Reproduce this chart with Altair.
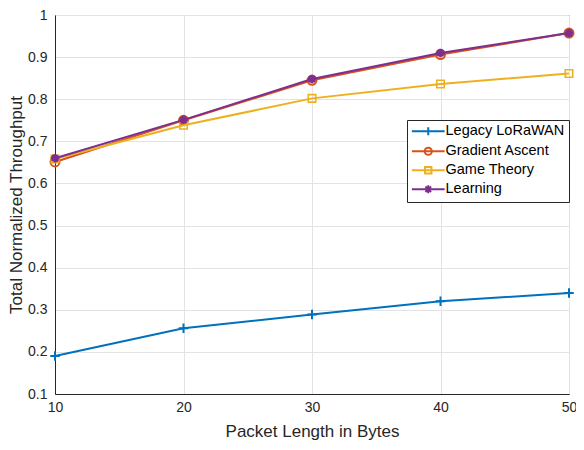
import altair as alt
import pandas as pd

packet_len = [10, 20, 30, 40, 50]
series = ["Legacy LoRaWAN", "Gradient Ascent", "Game Theory", "Learning"]
legacy = [0.190, 0.256, 0.289, 0.320, 0.340]
gradient = [0.651, 0.750, 0.845, 0.906, 0.957]
game = [0.658, 0.738, 0.802, 0.836, 0.861]
learning = [0.660, 0.751, 0.848, 0.910, 0.957]
colors = ["#0072BD", "#D95319", "#EDB120", "#7E2F8E"]
y_ticks = [0.1, 0.2, 0.3, 0.4, 0.5, 0.6, 0.7, 0.8, 0.9, 1.0]

rows = []
for name, vals in zip(series, [legacy, gradient, game, learning]):
    for x, v in zip(packet_len, vals):
        rows.append({"len": x, "thr": v, "series": name})
df = pd.DataFrame(rows)

FONT = "Liberation Sans"
TXT = "#262626"
W, H = 514, 379

xenc = alt.X("len:Q", scale=alt.Scale(domain=[10, 50], nice=False),
             axis=alt.Axis(values=packet_len, format="d", title="Packet Length in Bytes",
                           titleX=W / 2, titleY=37, titleBaseline="middle"))
yenc = alt.Y("thr:Q", scale=alt.Scale(domain=[0.1, 1.0], nice=False, zero=False),
             axis=alt.Axis(values=y_ticks, format=".1~f", title="Total Normalized Throughput",
                           titleX=-39, titleY=H / 2, titleBaseline="middle"))
cscale = alt.Scale(domain=series, range=colors)

marker_paths = [
    ("M-1,0L1,0M0,-1L0,1", 90, 2),
    ("circle", 81, 2),
    ("square", 56, 1.6),
    ("M-1,0L1,0M0,-1L0,1M-0.7,-0.7L0.7,0.7M-0.7,0.7L0.7,-0.7", 72, 2.6),
]
layers = []
for name, col, (shp, sz, sw) in zip(series, colors, marker_paths):
    base = alt.Chart(df).transform_filter(alt.datum.series == name)
    layers.append(base.mark_line(strokeWidth=2, color=col).encode(x=xenc, y=yenc))
    layers.append(
        base.mark_point(filled=False, shape=shp, size=sz, strokeWidth=sw, opacity=1, color=col)
        .encode(x=xenc, y=yenc)
    )

legend_paths = [
    "M-4.1,0L4.1,0M0,-1L0,1",
    "M-4.1,0L4.1,0M-0.9,0A0.9,0.9 0 1 0 0.9,0A0.9,0.9 0 1 0 -0.9,0Z",
    "M-4.1,0L4.1,0M-0.8,-0.8L0.8,-0.8L0.8,0.8L-0.8,0.8Z",
    "M-4.1,0L4.1,0M0,-1L0,1M-0.7,-0.7L0.7,0.7M-0.7,0.7L0.7,-0.7",
]
leg_df = pd.DataFrame({"series": series, "len": [None] * 4, "thr": [None] * 4})
legend_layer = alt.Chart(leg_df).mark_point(filled=False, opacity=1).encode(
    x=xenc, y=yenc,
    color=alt.Color("series:N", scale=cscale,
                    legend=alt.Legend(title=None, orient="none", legendX=352, legendY=105)),
    shape=alt.Shape("series:N", scale=alt.Scale(domain=series, range=legend_paths),
                    legend=alt.Legend(title=None, orient="none", legendX=352, legendY=105)),
)

chart = alt.layer(*layers, legend_layer).properties(
    width=W, height=H,
    autosize=alt.AutoSizeParams(type="none"),
    padding={"left": 47, "top": 7, "right": 7, "bottom": 48},
).configure(font=FONT).configure_view(
    stroke=TXT, strokeWidth=1
).configure_axis(
    labelFont=FONT, titleFont=FONT, labelFontSize=14, titleFontSize=17,
    labelColor=TXT, titleColor=TXT, titleFontWeight="normal",
    domainColor=TXT, domainWidth=1, tickSize=0, grid=True, labelFlush=False,
    gridColor="#e3e3e3", gridWidth=1,
).configure_axisX(labelPadding=6).configure_axisY(labelPadding=8).configure_legend(
    labelFont=FONT, labelFontSize=14.5, labelColor="#000000",
    symbolSize=64, symbolStrokeWidth=2, symbolOffset=10, labelOffset=10,
    padding=4, rowPadding=3, strokeColor=TXT, fillColor="white",
    cornerRadius=0,
)

chart.save("out.html", embed_options={"renderer": "svg", "actions": False})
